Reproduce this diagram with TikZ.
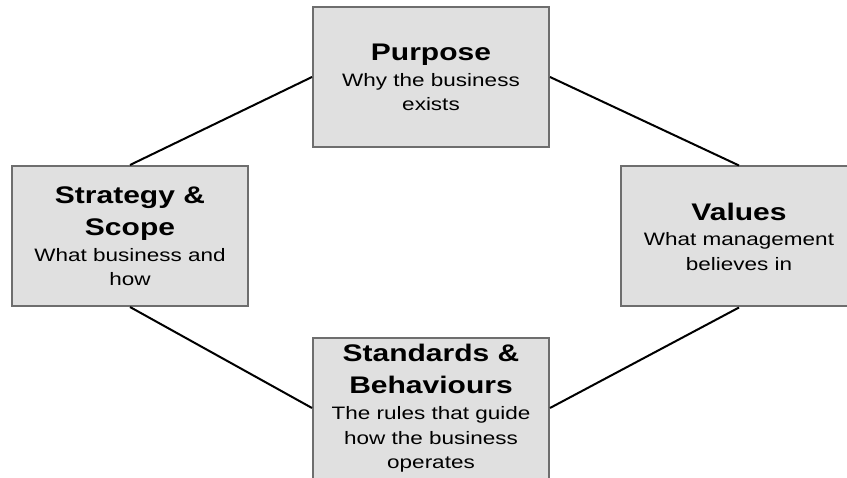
\documentclass[tikz,border=0pt]{standalone}
\usepackage{fontspec}
\newfontfamily\diafont[FakeStretch=1.25]{Liberation Sans}
\definecolor{boxfill}{HTML}{E0E0E0}
\definecolor{boxline}{HTML}{6E6E6E}
\newcommand{\hd}[1]{{\fontsize{24}{24}\selectfont\bfseries #1}}
\begin{document}
\begin{tikzpicture}[x=1pt,y=-1pt,
  card/.style={draw=boxline, line width=2pt, fill=boxfill, minimum width=236pt, minimum height=140pt,
    inner sep=0pt, align=center, font=\diafont\fontsize{18}{24}\selectfont},
  link/.style={draw=black, line width=2pt}]
\useasboundingbox (0,0) rectangle (847,478);
\clip (0,0) rectangle (847,478);
\node[card] (purpose) at (431,77) {\hd{Purpose}\\[2pt]Why the business\\exists};
\node[card] (strategy) at (130,236) {\hd{Strategy \&}\\[8pt]\hd{Scope}\\[2pt]What business and\\how};
\node[card] (values) at (739,236.5) {\hd{Values}\\[1pt]What management\\[1pt]believes in};
\node[card, minimum height=150pt, text depth=14pt] (standards) at (431,413) {\hd{Standards \&}\\[8pt]\hd{Behaviours}\\[2pt]The rules that guide\\[1pt]how the business\\operates};
\draw[link] (purpose.west) -- (strategy.north);
\draw[link] (purpose.east) -- (values.north);
\draw[link] (strategy.south) -- ([yshift=5pt]standards.west);
\draw[link] (values.south) -- ([yshift=5pt]standards.east);
\end{tikzpicture}
\end{document}
